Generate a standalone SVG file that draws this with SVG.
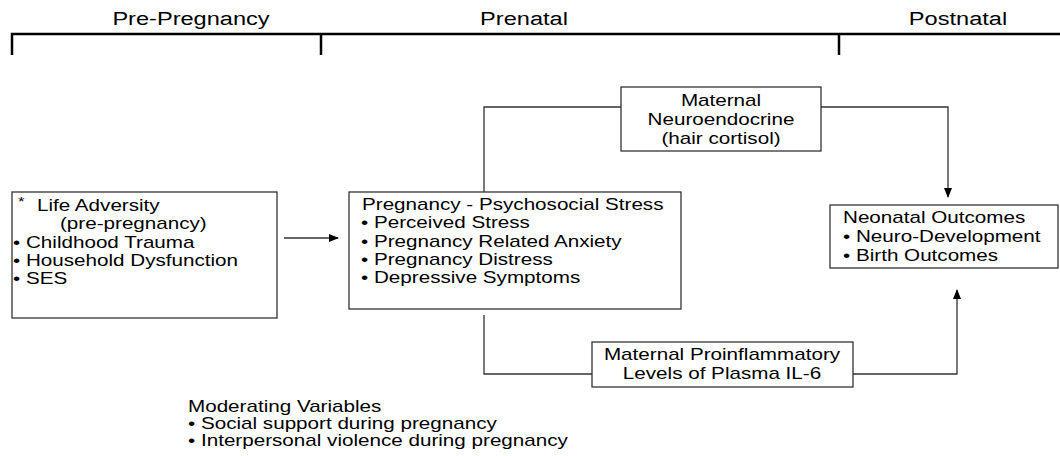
<svg xmlns="http://www.w3.org/2000/svg" width="1060" height="456" viewBox="0 0 1060 456">
<defs>
<style>
text{font-family:"Liberation Sans",Arial,sans-serif;fill:#000;}
.hdr{font-size:18px;}
.t{font-size:16px;}
.m{font-size:16px;}
.box{fill:#fff;stroke:#333;stroke-width:1.3;}
.ln{fill:none;stroke:#333;stroke-width:1.3;}
.tl{fill:none;stroke:#000;stroke-width:2.5;}
</style>
<marker id="ah" markerWidth="10" markerHeight="8" refX="9" refY="4" orient="auto" markerUnits="userSpaceOnUse">
<path d="M0,0 L10,4 L0,8 Z" fill="#000"/>
</marker>
</defs>
<rect width="1060" height="456" fill="#fff"/>
<g id="timeline">
<path class="tl" d="M12,55 V34 H1060 M321,34 V55 M839,34 V55"/>
<text class="hdr" x="0" y="25" text-anchor="middle" transform="matrix(1.31 0 0 1 191 0)">Pre-Pregnancy</text>
<text class="hdr" x="0" y="25" text-anchor="middle" transform="matrix(1.31 0 0 1 524 0)">Prenatal</text>
<text class="hdr" x="0" y="25" text-anchor="middle" transform="matrix(1.31 0 0 1 958 0)">Postnatal</text>
</g>
<g id="connectors">
<line class="ln" x1="284" y1="238" x2="338" y2="238" marker-end="url(#ah)"/>
<path class="ln" d="M484,192 V107 H621"/>
<path class="ln" d="M821,107 H948 V197" marker-end="url(#ah)"/>
<path class="ln" d="M484,315 V374 H592"/>
<path class="ln" d="M853,374 H957 V290" marker-end="url(#ah)"/>
</g>
<g id="life-adversity">
<rect class="box" x="12" y="192" width="265" height="126"/>
<text x="0" y="206" font-size="13" transform="matrix(1.29 0 0 1 18 0)">*</text>
<text class="t" x="0" y="211" transform="matrix(1.29 0 0 1 37 0)">Life Adversity</text>
<text class="t" x="0" y="229" transform="matrix(1.29 0 0 1 60 0)">(pre-pregnancy)</text>
<text class="t" x="0" y="248" transform="matrix(1.29 0 0 1 13 0)">• Childhood Trauma</text>
<text class="t" x="0" y="266" transform="matrix(1.29 0 0 1 13 0)">• Household Dysfunction</text>
<text class="t" x="0" y="284" transform="matrix(1.29 0 0 1 13 0)">• SES</text>
</g>
<g id="psychosocial-stress">
<rect class="box" x="349" y="192" width="332" height="117"/>
<text class="t" x="0" y="210" transform="matrix(1.29 0 0 1 362 0)">Pregnancy - Psychosocial Stress</text>
<text class="t" x="0" y="228" transform="matrix(1.29 0 0 1 361 0)">• Perceived Stress</text>
<text class="t" x="0" y="247" transform="matrix(1.29 0 0 1 361 0)">• Pregnancy Related Anxiety</text>
<text class="t" x="0" y="265" transform="matrix(1.29 0 0 1 361 0)">• Pregnancy Distress</text>
<text class="t" x="0" y="283" transform="matrix(1.29 0 0 1 361 0)">• Depressive Symptoms</text>
</g>
<g id="neuroendocrine">
<rect class="box" x="621" y="87" width="200" height="64"/>
<text class="t" x="0" y="106" text-anchor="middle" transform="matrix(1.29 0 0 1 721 0)">Maternal</text>
<text class="t" x="0" y="125" text-anchor="middle" transform="matrix(1.29 0 0 1 721 0)">Neuroendocrine</text>
<text class="t" x="0" y="144" text-anchor="middle" transform="matrix(1.29 0 0 1 721 0)">(hair cortisol)</text>
</g>
<g id="neonatal-outcomes">
<rect class="box" x="830" y="205" width="228" height="63"/>
<text class="t" x="0" y="223" transform="matrix(1.29 0 0 1 843 0)">Neonatal Outcomes</text>
<text class="t" x="0" y="242" transform="matrix(1.29 0 0 1 843 0)">• Neuro-Development</text>
<text class="t" x="0" y="261" transform="matrix(1.29 0 0 1 843 0)">• Birth Outcomes</text>
</g>
<g id="il6">
<rect class="box" x="592" y="342" width="261" height="45"/>
<text class="t" x="0" y="360" text-anchor="middle" transform="matrix(1.29 0 0 1 722 0)">Maternal Proinflammatory</text>
<text class="t" x="0" y="379" text-anchor="middle" transform="matrix(1.29 0 0 1 722 0)">Levels of Plasma IL-6</text>
</g>
<g id="moderating">
<text class="m" x="0" y="412" transform="matrix(1.29 0 0 1 188 0)">Moderating Variables</text>
<text class="m" x="0" y="429" transform="matrix(1.29 0 0 1 188 0)">• Social support during pregnancy</text>
<text class="m" x="0" y="446" transform="matrix(1.29 0 0 1 188 0)">• Interpersonal violence during pregnancy</text>
</g>
</svg>
